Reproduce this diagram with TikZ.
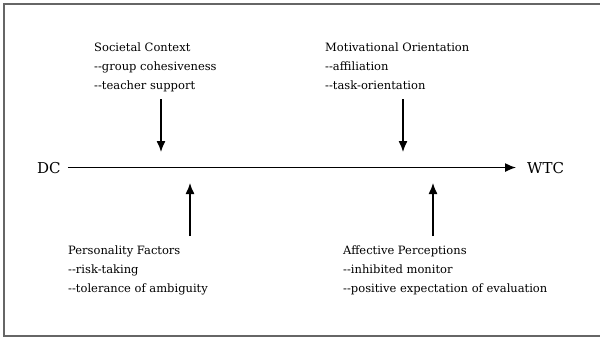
\documentclass[tikz,border=0pt]{standalone}
\usepackage{fontspec}
\setmainfont{DejaVu Serif}
\usepackage{tikz}
\usetikzlibrary{arrows.meta,calc}

\tikzset{
  factor/.style={anchor=base west,inner sep=0pt,align=left,font=\fontsize{11.5}{19}\selectfont},
  pole/.style={anchor=base west,inner sep=0pt,font=\fontsize{15}{18}\selectfont},
  pointer/.style={line width=1.3pt,-{Latex[length=11pt,width=9pt]}}
}
\newcommand{\dd}{{-}{-}}

\begin{document}
\begin{tikzpicture}[x=1pt,y=-1pt]
    \useasboundingbox (0,0) rectangle (600,338);
    % frame (open on the right)
    \draw[line width=2pt,black!60] (600,4) -- (4,4) -- (4,336) -- (600,336);

    % the two poles and the main line
    \node[pole] (dc) at (37,173) {DC};
    \node[pole] (wtc) at (527,173) {WTC};
    \draw[pointer,shorten <=7pt,shorten >=11pt] (dc.east) -- (dc.east -| wtc.west);

    % influences from above (nodes placed at the baseline of their last line)
    \node[factor] (societal) at (94,89) {Societal Context\\\dd group cohesiveness\\\dd teacher support};
    \node[factor] (motiv) at (325,89) {Motivational Orientation\\\dd affiliation\\\dd task-orientation};
    \coordinate (societalTop) at (161,99);
    \coordinate (societalTip) at (161,152);
    \coordinate (motivTop) at (403,99);
    \coordinate (motivTip) at (403,152);
    \draw[pointer] (societalTop) -- (societalTip);
    \draw[pointer] (motivTop) -- (motivTip);

    % influences from below
    \node[factor] (person) at (68,292) {Personality Factors\\\dd risk-taking\\\dd tolerance of ambiguity};
    \node[factor] (affect) at (343,292) {Affective Perceptions\\\dd inhibited monitor\\\dd positive expectation of evaluation};
    \coordinate (personBot) at (190,236);
    \coordinate (personTip) at (190,183);
    \coordinate (affectBot) at (433,236);
    \coordinate (affectTip) at (433,183);
    \draw[pointer] (personBot) -- (personTip);
    \draw[pointer] (affectBot) -- (affectTip);
\end{tikzpicture}
\end{document}
